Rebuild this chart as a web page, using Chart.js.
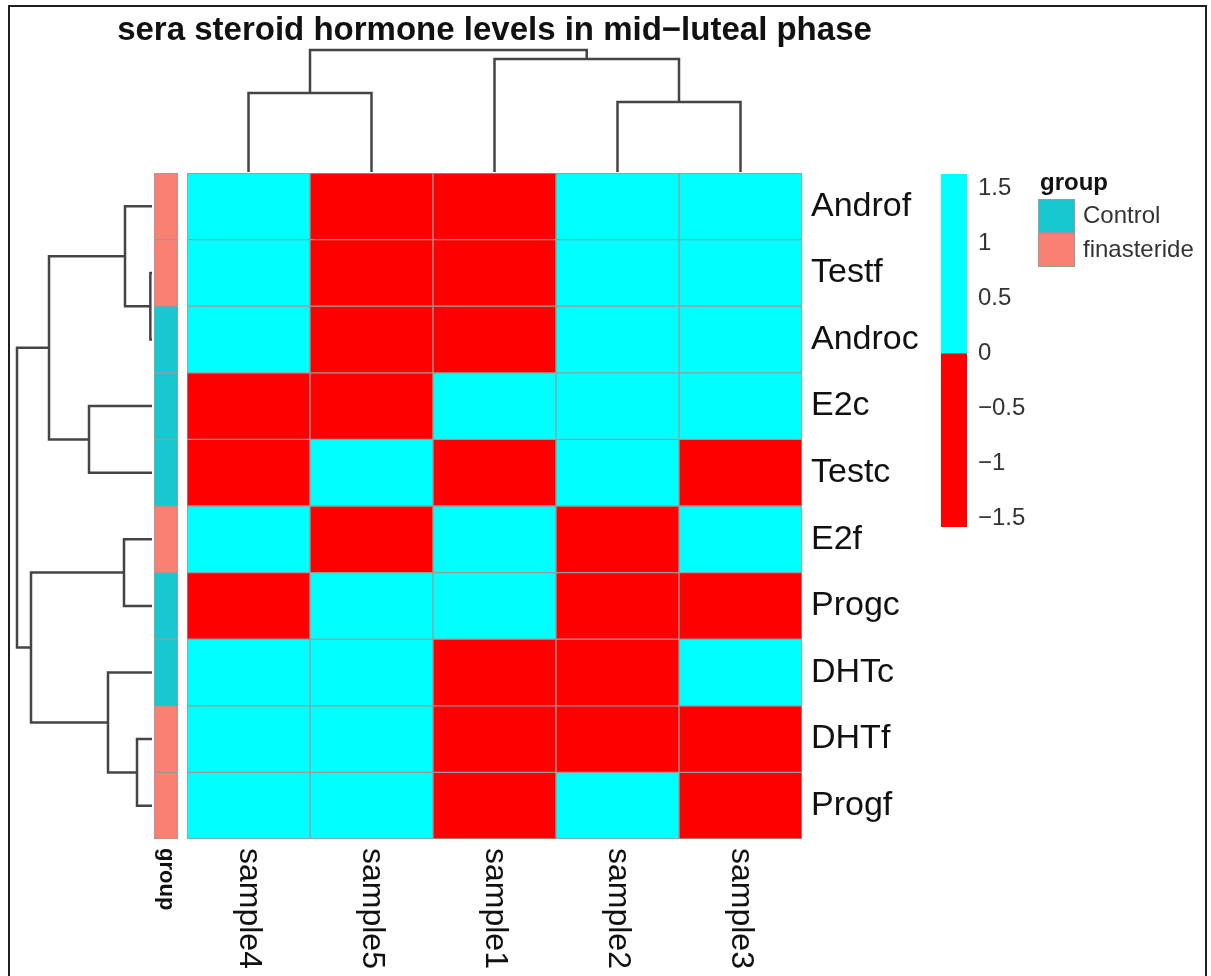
<!DOCTYPE html>
<html>
<head>
<meta charset="utf-8">
<title>sera steroid hormone levels in mid−luteal phase</title>
<script src="https://cdn.jsdelivr.net/npm/chart.js@4.4.1/dist/chart.umd.min.js"></script>
<style>
  html, body { margin: 0; padding: 0; background: #fff; overflow: hidden; }
  #page { position: relative; width: 1211px; height: 976px; background: #fff; overflow: hidden; }
  #page canvas { position: absolute; left: 0; top: 0; }
  #frame { position: absolute; left: 8px; top: 5px; width: 1199px; height: 1000px;
           border: 2px solid #1e1e1e; box-sizing: border-box; }
</style>
</head>
<body>
<div id="page">
  <div id="frame"></div>
  <canvas id="topTree" width="1211" height="976"></canvas>
  <canvas id="leftTree" width="1211" height="976"></canvas>
  <canvas id="groupBar" width="1211" height="976"></canvas>
  <canvas id="heat" width="1211" height="976"></canvas>
  <canvas id="key" width="1211" height="976"></canvas>
</div>
<script>
// ---- data ---------------------------------------------------------------
const titleText = 'sera steroid hormone levels in mid\u2212luteal phase';

// columns in dendrogram order
const colLabels = ['sample4', 'sample5', 'sample1', 'sample2', 'sample3'];

// rows in dendrogram order
const rowLabels = ['Androf', 'Testf', 'Androc', 'E2c', 'Testc', 'E2f', 'Progc', 'DHTc', 'DHTf', 'Progf'];

// row-scaled levels (z-scores), one array per hormone, ordered as colLabels
const Androf = [0.78, -1.12, -0.98, 0.70, 0.62];
const Testf  = [0.80, -1.05, -1.05, 0.66, 0.64];
const Androc = [0.79, -1.08, -1.03, 0.68, 0.64];
const E2c    = [-1.58, -0.30, 0.62, 0.55, 0.71];
const Testc  = [-0.85, 1.10, -0.62, 1.05, -0.68];
const E2f    = [0.72, -1.35, 0.55, -0.60, 0.68];
const Progc  = [-0.55, 1.63, 0.12, -0.62, -0.58];
const DHTc   = [0.95, 0.60, -1.10, -1.05, 0.60];
const DHTf   = [1.12, 1.05, -0.70, -0.75, -0.72];
const Progf  = [0.90, 0.85, -0.95, 0.25, -1.05];
const zRows  = [Androf, Testf, Androc, E2c, Testc, E2f, Progc, DHTc, DHTf, Progf];

// group annotation for each row
const rowGroups = ['finasteride', 'finasteride', 'Control', 'Control', 'Control',
                   'finasteride', 'Control', 'Control', 'finasteride', 'finasteride'];
const groupNames = ['Control', 'finasteride'];

// column clustering: [left, right, height]; string = leaf, number = earlier merge
const colTree = [
  ['sample2', 'sample3', 2.10],
  ['sample4', 'sample5', 2.37],
  ['sample1', 0, 3.39],
  [1, 2, 3.66]
];

// row clustering
const rowTree = [
  ['Testf', 'Androc', 0.05],
  ['DHTf', 'Progf', 0.45],
  ['Androf', 0, 0.81],
  ['E2f', 'Progc', 0.84],
  ['DHTc', 1, 1.32],
  ['E2c', 'Testc', 1.89],
  [2, 5, 3.09],
  [3, 4, 3.63],
  [6, 7, 4.05]
];

// colour key
const keyBreaks = [-1.58, 0, 1.63];
const keyTicks  = [-1.5, -1, -0.5, 0, 0.5, 1, 1.5];

// ---- styles & layout ------------------------------------------------------
const W = 1211, H = 976;
const FONT = '"Liberation Sans", Arial, Helvetica, sans-serif';
const HIGH = '#00FFFF', LOW = '#FF0000';
const groupColors = { 'Control': '#16C8D1', 'finasteride': '#FA8072' };
const CELL_BORDER = '#9a9a9a';
const TREE_COLOR = '#444444';

const heatBox  = { l: 187, t: 173, r: 802, b: 839 };
const groupBox = { l: 154, t: 173, r: 178, b: 839 };
const topBox   = { l: 187, t: 50,  r: 802, b: 172 };
const leftBox  = { l: 17,  t: 173, r: 152, b: 839 };
const keyBox   = { l: 941, t: 174, r: 967, b: 527 };

const pad = b => ({ left: b.l, top: b.t, right: W - b.r, bottom: H - b.b });
const cellColor = v => (v >= keyBreaks[1] ? HIGH : LOW);
const minus = v => (v < 0 ? '\u2212' + Math.abs(v) : String(v));

Chart.defaults.font.family = FONT;

const baseOpts = (padding) => ({
  responsive: false,
  animation: false,
  events: [],
  layout: { padding },
  plugins: { legend: { display: false }, tooltip: { enabled: false }, title: { display: false } }
});

// ---- dendrogram geometry ----------------------------------------------------
function treeSegments(tree, leaves) {
  const nodes = [];
  const at = ref => (typeof ref === 'string') ? { p: leaves.indexOf(ref) + 0.5, h: 0 } : nodes[ref];
  const segs = [];
  tree.forEach(([a, b, h]) => {
    const A = at(a), B = at(b);
    segs.push({ A, B, h });
    nodes.push({ p: (A.p + B.p) / 2, h });
  });
  return segs;
}
const lineSet = data => ({
  data, showLine: true, borderColor: TREE_COLOR, borderWidth: 2.5,
  pointRadius: 0, fill: false, tension: 0, clip: false,
  borderJoinStyle: 'miter', borderCapStyle: 'butt'
});

// top dendrogram (columns)
const colSegs = treeSegments(colTree, colLabels);
new Chart(document.getElementById('topTree'), {
  type: 'scatter',
  data: {
    datasets: colSegs.map(s => lineSet([
      { x: s.A.p, y: s.A.h }, { x: s.A.p, y: s.h }, { x: s.B.p, y: s.h }, { x: s.B.p, y: s.B.h }
    ]))
  },
  options: Object.assign(baseOpts(pad(topBox)), {
    scales: {
      x: { type: 'linear', display: false, min: 0, max: colLabels.length },
      y: { type: 'linear', display: false, min: 0, max: Math.max(...colTree.map(m => m[2])) }
    }
  })
});

// left dendrogram (rows)
const rowSegs = treeSegments(rowTree, rowLabels);
new Chart(document.getElementById('leftTree'), {
  type: 'scatter',
  data: {
    datasets: rowSegs.map(s => lineSet([
      { x: s.A.h, y: s.A.p }, { x: s.h, y: s.A.p }, { x: s.h, y: s.B.p }, { x: s.B.h, y: s.B.p }
    ]))
  },
  options: Object.assign(baseOpts(pad(leftBox)), {
    scales: {
      x: { type: 'linear', display: false, reverse: true, min: 0, max: Math.max(...rowTree.map(m => m[2])) },
      y: { type: 'linear', display: false, reverse: true, min: 0, max: rowLabels.length }
    }
  })
});

// ---- group annotation column ------------------------------------------------
const groupLabelPlugin = {
  id: 'groupLabel',
  afterDraw(chart) {
    const ctx = chart.ctx, x = chart.scales.x.getPixelForValue(0);
    ctx.save();
    ctx.translate(x, chart.chartArea.bottom + 9);
    ctx.rotate(Math.PI / 2);
    ctx.font = 'bold 22px ' + FONT;
    ctx.fillStyle = '#111';
    ctx.textAlign = 'left';
    ctx.textBaseline = 'middle';
    ctx.fillText('group', 0, 0);
    ctx.restore();
  }
};
new Chart(document.getElementById('groupBar'), {
  type: 'bar',
  data: {
    labels: ['group'],
    datasets: rowLabels.map((name, i) => ({
      label: name, data: [1],
      backgroundColor: groupColors[rowGroups[i]],
      borderColor: CELL_BORDER, borderWidth: 1, borderSkipped: false,
      barPercentage: 1, categoryPercentage: 1
    }))
  },
  options: Object.assign(baseOpts(pad(groupBox)), {
    scales: {
      x: { display: false, stacked: true },
      y: { display: false, stacked: true, min: 0, max: rowLabels.length, reverse: true }
    }
  }),
  plugins: [groupLabelPlugin]
});

// ---- heatmap ------------------------------------------------------------------
const heatTextPlugin = {
  id: 'heatText',
  afterDraw(chart) {
    const ctx = chart.ctx, a = chart.chartArea;
    const xs = chart.scales.x, ys = chart.scales.y;
    ctx.save();
    // title
    ctx.font = 'bold 33px ' + FONT;
    ctx.fillStyle = '#111';
    ctx.textAlign = 'center';
    ctx.textBaseline = 'alphabetic';
    ctx.fillText(titleText, (a.left + a.right) / 2, 40);
    // row names
    ctx.font = '34px ' + FONT;
    ctx.textAlign = 'left';
    ctx.textBaseline = 'middle';
    rowLabels.forEach((name, i) => ctx.fillText(name, a.right + 9, ys.getPixelForValue(i + 0.5)));
    // column names, reading downwards
    ctx.font = '32px ' + FONT;
    colLabels.forEach((name, i) => {
      ctx.save();
      ctx.translate(xs.getPixelForValue(i), a.bottom + 9);
      ctx.rotate(Math.PI / 2);
      ctx.fillText(name, 0, 0);
      ctx.restore();
    });
    ctx.restore();
  }
};
new Chart(document.getElementById('heat'), {
  type: 'bar',
  data: {
    labels: colLabels,
    datasets: rowLabels.map((name, i) => ({
      label: name,
      data: colLabels.map(() => 1),
      backgroundColor: zRows[i].map(cellColor),
      borderColor: CELL_BORDER, borderWidth: 1, borderSkipped: false,
      barPercentage: 1, categoryPercentage: 1
    }))
  },
  options: Object.assign(baseOpts(pad(heatBox)), {
    scales: {
      x: { display: false, stacked: true },
      y: { display: false, stacked: true, min: 0, max: rowLabels.length, reverse: true }
    }
  }),
  plugins: [heatTextPlugin]
});

// ---- colour key and group legend ------------------------------------------------
const KEY_AXIS_W = W - keyBox.r;
const legendPlugin = {
  id: 'groupLegend',
  afterDraw(chart) {
    const ctx = chart.ctx;
    const x0 = 1038, sw = 37, sh = 34, y0 = 199;
    ctx.save();
    ctx.font = 'bold 24px ' + FONT;
    ctx.fillStyle = '#111';
    ctx.textAlign = 'left';
    ctx.textBaseline = 'alphabetic';
    ctx.fillText('group', x0 + 2, 190);
    ctx.font = '24px ' + FONT;
    ctx.textBaseline = 'middle';
    groupNames.forEach((g, i) => {
      const y = y0 + i * sh;
      ctx.fillStyle = groupColors[g];
      ctx.fillRect(x0, y, sw, sh);
      ctx.strokeStyle = CELL_BORDER;
      ctx.lineWidth = 1;
      ctx.strokeRect(x0 + 0.5, y + 0.5, sw - 1, sh - 1);
      ctx.fillStyle = '#333';
      ctx.fillText(g, x0 + sw + 8, y + sh / 2);
    });
    ctx.restore();
  }
};
new Chart(document.getElementById('key'), {
  type: 'bar',
  data: {
    labels: ['key'],
    datasets: [
      { data: [[keyBreaks[1], keyBreaks[2]]], backgroundColor: HIGH, borderWidth: 0, barPercentage: 1, categoryPercentage: 1, grouped: false },
      { data: [[keyBreaks[0], keyBreaks[1]]], backgroundColor: LOW, borderWidth: 0, barPercentage: 1, categoryPercentage: 1, grouped: false }
    ]
  },
  options: Object.assign(baseOpts({ left: keyBox.l, top: keyBox.t, right: 0, bottom: H - keyBox.b }), {
    scales: {
      x: { display: false },
      y: {
        position: 'right',
        min: keyBreaks[0], max: keyBreaks[2],
        grid: { display: false, drawTicks: false },
        border: { display: false },
        afterBuildTicks: s => { s.ticks = keyTicks.map(v => ({ value: v })); },
        afterFit: s => { s.width = KEY_AXIS_W; },
        ticks: {
          padding: 11, color: '#333', font: { size: 24, family: FONT },
          callback: v => minus(v)
        }
      }
    }
  }),
  plugins: [legendPlugin]
});
</script>
</body>
</html>
